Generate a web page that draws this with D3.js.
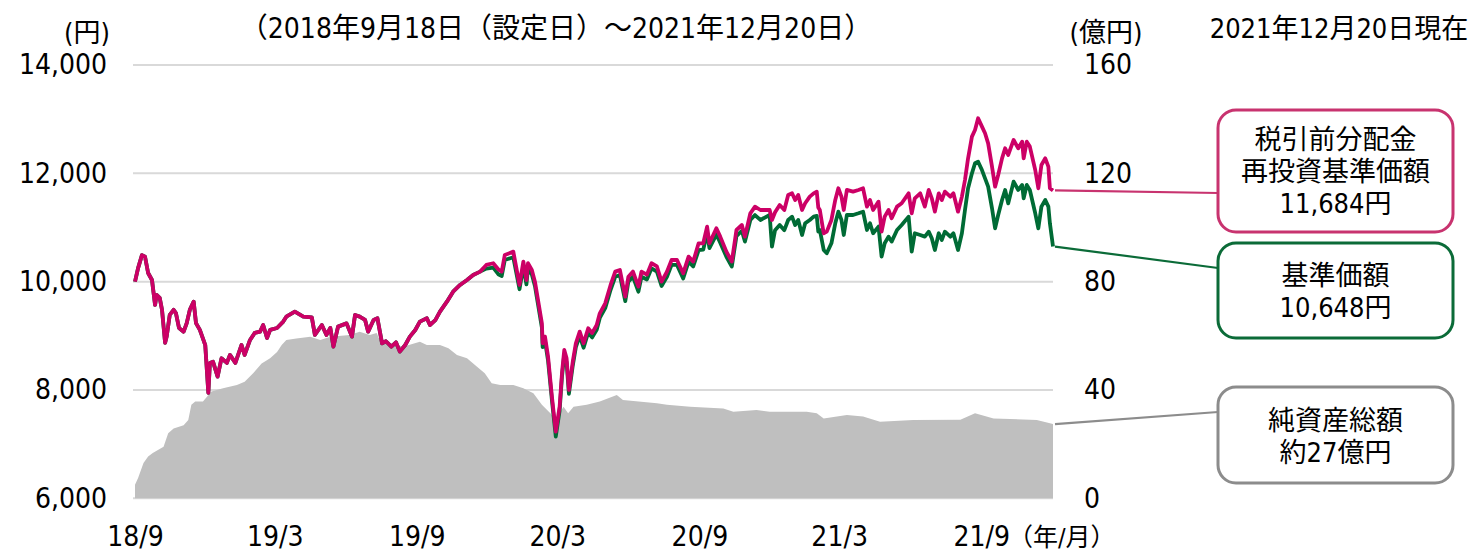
<!DOCTYPE html>
<html><head><meta charset="utf-8">
<script src="https://cdn.jsdelivr.net/npm/d3@7"></script>
<style>
html,body{margin:0;padding:0;background:#fff;}
svg text{font-family:"DejaVu Sans Condensed","DejaVu Sans","Noto Sans CJK JP",sans-serif;font-stretch:condensed;fill:#000;}
</style></head>
<body><svg id="c" width="1472" height="554"></svg>
<script>
const dates = ["2018-09-18","2018-09-22","2018-09-27","2018-10-01","2018-10-05","2018-10-10","2018-10-14","2018-10-16","2018-10-20","2018-10-23","2018-10-27","2018-10-29","2018-11-02","2018-11-07","2018-11-10","2018-11-14","2018-11-20","2018-11-24","2018-11-28","2018-12-03","2018-12-06","2018-12-11","2018-12-18","2018-12-22","2018-12-24","2018-12-28","2019-01-03","2019-01-08","2019-01-15","2019-01-19","2019-01-26","2019-02-03","2019-02-07","2019-02-14","2019-02-20","2019-02-27","2019-03-03","2019-03-08","2019-03-12","2019-03-21","2019-03-29","2019-04-02","2019-04-13","2019-04-24","2019-05-05","2019-05-09","2019-05-18","2019-05-24","2019-05-29","2019-06-02","2019-06-08","2019-06-19","2019-06-26","2019-06-30","2019-07-06","2019-07-13","2019-07-17","2019-07-24","2019-07-29","2019-08-04","2019-08-09","2019-08-16","2019-08-22","2019-08-27","2019-09-03","2019-09-09","2019-09-16","2019-09-22","2019-10-01","2019-10-05","2019-10-12","2019-10-18","2019-10-27","2019-11-04","2019-11-13","2019-11-22","2019-11-30","2019-12-09","2019-12-17","2019-12-26","2020-01-02","2020-01-06","2020-01-10","2020-01-21","2020-01-29","2020-02-03","2020-02-07","2020-02-09","2020-02-14","2020-02-18","2020-02-22","2020-02-27","2020-02-28","2020-03-02","2020-03-06","2020-03-11","2020-03-16","2020-03-21","2020-03-24","2020-03-27","2020-03-30","2020-04-02","2020-04-07","2020-04-11","2020-04-16","2020-04-21","2020-04-27","2020-05-02","2020-05-08","2020-05-12","2020-05-19","2020-05-26","2020-06-01","2020-06-07","2020-06-14","2020-06-18","2020-06-24","2020-07-01","2020-07-05","2020-07-12","2020-07-18","2020-07-25","2020-07-31","2020-08-07","2020-08-13","2020-08-20","2020-08-28","2020-09-04","2020-09-10","2020-09-17","2020-09-23","2020-09-28","2020-10-01","2020-10-10","2020-10-15","2020-10-23","2020-10-30","2020-11-05","2020-11-12","2020-11-16","2020-11-23","2020-11-29","2020-12-06","2020-12-18","2020-12-21","2020-12-25","2020-12-31","2021-01-06","2021-01-11","2021-01-16","2021-01-20","2021-01-24","2021-01-29","2021-02-02","2021-02-08","2021-02-13","2021-02-17","2021-02-19","2021-02-21","2021-02-26","2021-03-02","2021-03-08","2021-03-13","2021-03-17","2021-03-21","2021-03-24","2021-03-28","2021-04-05","2021-04-12","2021-04-18","2021-04-23","2021-04-27","2021-05-01","2021-05-08","2021-05-12","2021-05-16","2021-05-21","2021-05-25","2021-06-01","2021-06-07","2021-06-16","2021-06-20","2021-06-24","2021-07-01","2021-07-07","2021-07-12","2021-07-16","2021-07-20","2021-07-25","2021-07-29","2021-08-02","2021-08-09","2021-08-13","2021-08-19","2021-08-24","2021-08-28","2021-09-01","2021-09-06","2021-09-10","2021-09-14","2021-09-19","2021-09-23","2021-09-27","2021-10-02","2021-10-06","2021-10-10","2021-10-15","2021-10-19","2021-10-23","2021-10-30","2021-11-05","2021-11-10","2021-11-12","2021-11-16","2021-11-20","2021-11-27","2021-12-01","2021-12-05","2021-12-10","2021-12-14","2021-12-16","2021-12-20"];

// 税引前分配金再投資基準価額 (円)
const reinvested = [10000,10250,10490,10460,10160,10030,9570,9755,9700,9480,8870,8985,9385,9480,9420,9145,9077,9235,9480,9630,9235,9110,8830,7945,8500,8523,8246,8585,8500,8647,8500,8831,8647,8924,9053,9077,9200,8960,9110,9145,9262,9354,9446,9354,9340,9016,9200,9016,9145,8800,9170,9230,8985,9385,9354,9293,9077,9293,9324,8862,8900,8800,8880,8708,8831,8985,9108,9262,9324,9200,9290,9446,9631,9815,9939,10031,10124,10185,10308,10340,10220,10185,10493,10554,9940,10370,10031,10340,10216,10000,9662,9232,8862,8985,8616,7877,7231,7692,8308,8739,8585,8000,8523,8862,9077,8862,9139,9050,9200,9416,9600,9939,10185,10216,9723,10092,10185,9908,10185,10130,10340,10280,10000,10185,10400,10400,10154,10462,10370,10708,10708,11015,10708,10985,10831,10554,10370,10954,11046,10831,11262,11385,11323,11323,11139,11280,11415,11323,11600,11631,11508,11600,11323,11447,11569,11631,11662,11370,11323,10893,10923,11139,11508,11724,11570,11323,11693,11662,11693,11724,11385,11508,11323,11477,10923,11200,11323,11170,11385,11447,11631,11262,11539,11631,11385,11693,11539,11292,11631,11508,11662,11570,11631,11292,11570,11877,12277,12677,12800,13016,12862,12739,12554,12123,11754,11970,12277,12462,12339,12616,12462,12585,12277,12585,12493,12062,11724,12154,12277,12123,11724,11684];

// 基準価額 (円)
const nav = [10000,10250,10490,10460,10160,10030,9570,9755,9700,9480,8870,8985,9385,9480,9420,9145,9077,9235,9480,9630,9235,9110,8830,7945,8500,8523,8246,8585,8500,8647,8500,8831,8647,8924,9053,9077,9200,8960,9110,9145,9262,9354,9446,9354,9340,9016,9200,9016,9145,8800,9170,9230,8985,9385,9354,9293,9077,9293,9324,8862,8900,8800,8880,8708,8831,8985,9108,9262,9324,9200,9290,9446,9631,9815,9939,10031,10124,10185,10240,10260,10130,10105,10400,10450,9860,10280,9950,10250,10130,9920,9580,9150,8790,8910,8540,7810,7140,7620,8240,8660,8510,7930,8450,8790,9000,8780,9060,8970,9110,9330,9510,9850,10090,10120,9640,10000,10090,9815,10090,10040,10245,10185,9920,10090,10310,10310,10060,10370,10280,10580,10590,10900,10620,10870,10720,10460,10280,10840,10940,10740,11139,11230,11139,11231,10646,10950,11046,10950,11139,11200,11046,11139,10862,11077,11139,11200,11215,10923,10954,10585,10524,10708,11077,11292,11139,10862,11231,11231,11262,11292,10954,11077,10893,11016,10462,10708,10831,10739,10954,11046,11200,10554,10893,10862,10831,10923,10800,10585,10893,10770,10923,10831,10893,10585,10893,11323,11724,12000,12185,12215,12060,11908,11754,11354,10985,11230,11508,11693,11446,11847,11693,11785,11539,11785,11693,11262,10985,11385,11508,11385,11077,10648];

// 純資産総額 (億円)
const aumDates = ["2018-09-18","2018-09-22","2018-09-29","2018-10-05","2018-10-11","2018-10-25","2018-10-31","2018-11-07","2018-11-20","2018-11-26","2018-11-30","2018-12-05","2018-12-15","2018-12-26","2019-01-10","2019-01-28","2019-02-07","2019-02-18","2019-03-01","2019-03-12","2019-03-21","2019-03-27","2019-04-02","2019-04-15","2019-05-03","2019-05-16","2019-05-29","2019-06-23","2019-07-06","2019-07-19","2019-07-28","2019-08-01","2019-08-23","2019-08-31","2019-09-22","2019-10-01","2019-10-18","2019-10-29","2019-11-09","2019-11-22","2019-12-05","2019-12-15","2019-12-24","2020-01-04","2020-01-21","2020-02-03","2020-02-16","2020-02-27","2020-03-09","2020-03-16","2020-03-26","2020-04-01","2020-04-08","2020-04-25","2020-05-12","2020-06-03","2020-06-11","2020-07-25","2020-08-07","2020-09-06","2020-10-19","2020-11-01","2020-12-01","2020-12-18","2021-02-04","2021-02-17","2021-02-26","2021-03-28","2021-04-18","2021-05-10","2021-06-22","2021-08-22","2021-09-10","2021-10-04","2021-11-29","2021-12-20"];
const aum = [5,7.5,13,15.4,16.7,19,24,25.8,27,28.9,34.5,35.7,35.7,39.4,40.6,41.8,43,46.2,49.8,51.7,54,56.6,58.5,59,59.7,58.5,59.7,60.3,61.5,60.3,61,58.5,56.6,56,57.8,56.6,56.6,55.4,52.9,51.7,48.6,46.2,42.5,41.8,41.8,40.6,38.8,34.5,31.4,29,33.8,31.4,33.8,34.5,35.7,38.1,36.3,35.1,34.5,33.8,33.2,32,32.6,32,32,31.4,29.5,30.8,30.2,28.3,28.9,29,31.4,29.5,28.9,27.4];

const yTicks = [6000, 8000, 10000, 12000, 14000];
const y2Ticks = [0, 40, 80, 120, 160];
const xTickDates = ["2018-09-18","2019-03-18","2019-09-18","2020-03-18","2020-09-18","2021-03-18","2021-09-18"];
const xTickLabels = ["18/9","19/3","19/9","20/3","20/9","21/3","21/9"];

const title = "（2018年9月18日（設定日）～2021年12月20日）";
const asOf = "2021年12月20日現在";
const labelReinv = ["税引前分配金","再投資基準価額","11,684円"];
const labelNav = ["基準価額","10,648円"];
const labelAum = ["純資産総額","約27億円"];

const parse = d3.timeParse("%Y-%m-%d");
const svg = d3.select("#c");
const L = 135, R = 1053, T = 65, B = 498.3;

const x = d3.scaleTime().domain([parse(dates[0]), parse(dates[dates.length-1])]).range([L, R]);
const y = d3.scaleLinear().domain([6000, 14000]).range([B, T]);
const y2 = d3.scaleLinear().domain([0, 160]).range([B, T]);

const RED = "#cc0066", GREEN = "#006b35", GRAY = "#bfbfbf";

// gridlines
svg.append("g").selectAll("line").data(yTicks).join("line")
  .attr("x1", L - 2).attr("x2", R)
  .attr("y1", d => y(d)).attr("y2", d => y(d))
  .attr("stroke", "#d9d9d9").attr("stroke-width", 2);

// area
const aumData = aumDates.map((d, i) => ({ t: parse(d), v: aum[i] }));
svg.append("path").datum(aumData)
  .attr("fill", GRAY)
  .attr("d", d3.area().x(d => x(d.t)).y0(y2(0)).y1(d => y2(d.v)));

const series = dates.map((d, i) => ({ t: parse(d), r: reinvested[i], n: nav[i] }));
svg.append("path").datum(series).attr("fill", "none").attr("stroke", GREEN)
  .attr("stroke-width", 3.8).attr("stroke-linejoin", "round")
  .attr("d", d3.line().x(d => x(d.t)).y(d => y(d.n)));
svg.append("path").datum(series).attr("fill", "none").attr("stroke", RED)
  .attr("stroke-width", 3.8).attr("stroke-linejoin", "round")
  .attr("d", d3.line().x(d => x(d.t)).y(d => y(d.r)));

// axes
const fs = 28;
const leftAx = svg.append("g").attr("transform", `translate(${L - 2},0)`)
  .call(d3.axisLeft(y).tickValues(yTicks).tickSize(0).tickPadding(26).tickFormat(d3.format(",")));
const rightAx = svg.append("g").attr("transform", `translate(${R},0)`)
  .call(d3.axisRight(y2).tickValues(y2Ticks).tickSize(0).tickPadding(31).tickFormat(d3.format("d")));
const botAx = svg.append("g").attr("transform", `translate(0,${B})`)
  .call(d3.axisBottom(x).tickValues(xTickDates.map(parse)).tickSize(0).tickPadding(28)
    .tickFormat((d, i) => xTickLabels[i]));
[leftAx, rightAx, botAx].forEach(g => {
  g.select(".domain").remove();
  g.selectAll("text").attr("font-size", fs).style("font-family", null).attr("font-family", null);
});

// unit labels & titles
svg.append("text").attr("x", 87).attr("y", 42).attr("text-anchor", "middle").attr("font-size", 27).text("(円)");
svg.append("text").attr("x", 1106).attr("y", 42).attr("text-anchor", "middle").attr("font-size", 27).text("(億円)");
svg.append("text").attr("x", 556).attr("y", 38).attr("text-anchor", "middle").attr("font-size", 28).text(title);
svg.append("text").attr("x", 1339).attr("y", 38).attr("text-anchor", "middle").attr("font-size", 27).text(asOf);
svg.append("text").attr("x", 1008).attr("y", 546).attr("font-size", 25).text("（年/月）");

// callouts
const last = series[series.length - 1];
const lastA = aumData[aumData.length - 1];
const boxX = 1218, boxW = 235;
const callouts = [
  { y0: y(last.r), ty: 193, top: 110, h: 122, color: "#c8336f", lines: labelReinv, first: 139 },
  { y0: y(last.n), ty: 268, top: 243, h: 95, color: "#0b6b38", lines: labelNav, first: 275 },
  { y0: y2(lastA.v), ty: 412, top: 387, h: 96, color: "#8c8c8c", lines: labelAum, first: 420 }
];
callouts.forEach(c => {
  svg.append("line").attr("x1", x(last.t) + 2).attr("y1", c.y0).attr("x2", boxX).attr("y2", c.ty)
    .attr("stroke", c.color).attr("stroke-width", 2.2);
  svg.append("rect").attr("x", boxX).attr("y", c.top).attr("width", boxW).attr("height", c.h)
    .attr("rx", 18).attr("fill", "#fff").attr("stroke", c.color).attr("stroke-width", 3);
  c.lines.forEach((t, i) => {
    svg.append("text").attr("x", boxX + boxW / 2).attr("y", c.first + i * 32)
      .attr("dy", "0.36em").attr("text-anchor", "middle").attr("font-size", 27).text(t);
  });
});
</script></body></html>
